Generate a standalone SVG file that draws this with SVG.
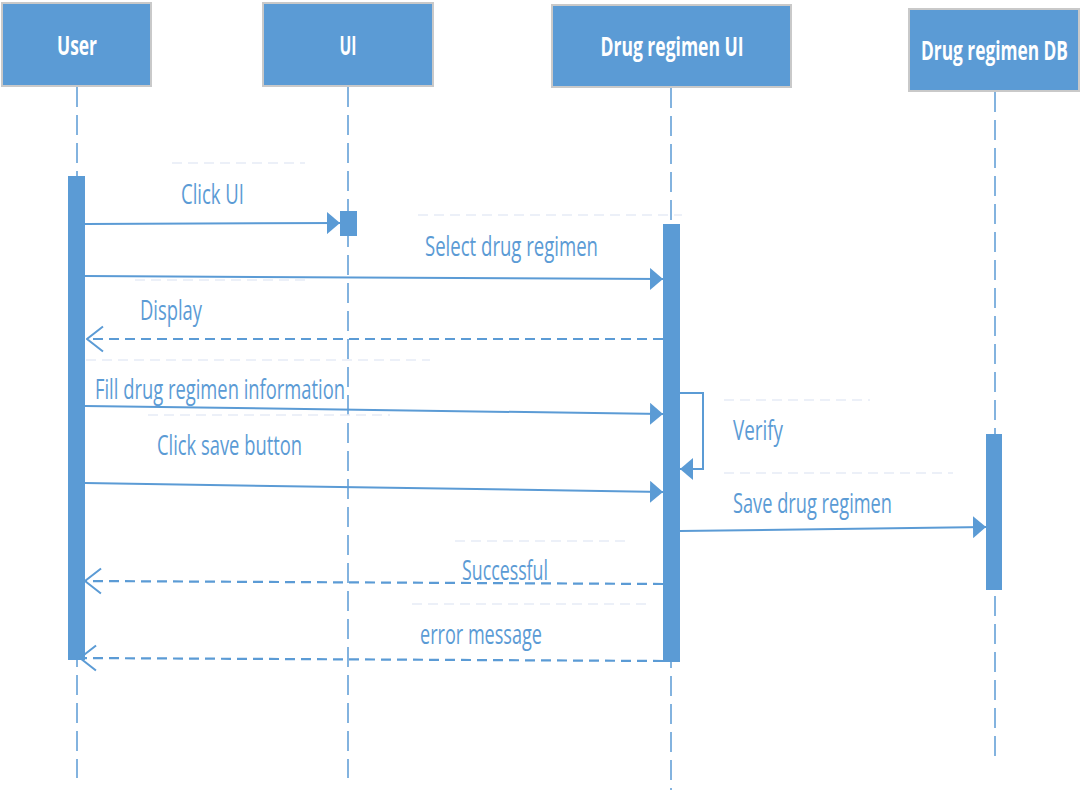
<svg xmlns="http://www.w3.org/2000/svg" width="1081" height="791" viewBox="0 0 1081 791">
<style>
.box{fill:#5B9BD5;stroke:#C9C9C9;stroke-width:2}
.hdr{font-family:"Open Sans","Noto Sans",sans-serif;font-weight:bold;font-size:27px;fill:#FFFFFF;text-anchor:middle}
.life{stroke:#5B9BD5;stroke-width:1.5;stroke-dasharray:20 8;fill:none}
.act{fill:#5B9BD5}
.msg{stroke:#5B9BD5;stroke-width:2;fill:none}
.ret{stroke:#5B9BD5;stroke-width:2.2;fill:none;stroke-dasharray:10 6}
.faint{stroke:#E6ECF6;stroke-width:1.5;stroke-dasharray:10 6;fill:none}
.lbl{font-family:"Open Sans","Noto Sans",sans-serif;font-size:27px;fill:#5B9BD5}
</style>
<defs>
<marker id="fill" viewBox="0 0 13 22" refX="13" refY="11" markerWidth="13" markerHeight="22" markerUnits="userSpaceOnUse" orient="auto"><path d="M0,0 L13,11 L0,22 z" fill="#5B9BD5"/></marker>
<marker id="open" viewBox="0 0 18 28" refX="17" refY="14" markerWidth="18" markerHeight="28" markerUnits="userSpaceOnUse" orient="auto"><path d="M1,1.5 L17,14 L1,26.5" fill="none" stroke="#5B9BD5" stroke-width="2"/></marker>
</defs>
<rect width="1081" height="791" fill="#FFFFFF"/>
<g id="lifelines">
<line class="life" x1="77" y1="87" x2="77" y2="778"/>
<line class="life" x1="348" y1="87" x2="348" y2="778"/>
<line class="life" x1="671" y1="88" x2="671" y2="790"/>
<line class="life" x1="995" y1="92" x2="995" y2="762"/>
</g>
<g id="faint-lines">
<line class="faint" x1="172" y1="163" x2="305" y2="163"/>
<line class="faint" x1="418" y1="215" x2="682" y2="215"/>
<line class="faint" x1="135" y1="280" x2="305" y2="280"/>
<line class="faint" x1="86" y1="360" x2="430" y2="360"/>
<line class="faint" x1="148" y1="415" x2="390" y2="415"/>
<line class="faint" x1="724" y1="400" x2="870" y2="400"/>
<line class="faint" x1="724" y1="473" x2="953" y2="473"/>
<line class="faint" x1="455" y1="541" x2="627" y2="541"/>
<line class="faint" x1="412" y1="604" x2="652" y2="604"/>
</g>
<g id="node-user">
<rect class="box" x="2" y="3" width="149" height="83"/>
<text class="hdr" x="77" y="55" textLength="40" lengthAdjust="spacingAndGlyphs">User</text>
</g>
<g id="node-ui">
<rect class="box" x="263" y="3" width="170" height="83"/>
<text class="hdr" x="348" y="55" textLength="17" lengthAdjust="spacingAndGlyphs">UI</text>
</g>
<g id="node-drug-ui">
<rect class="box" x="552" y="5" width="239" height="82"/>
<text class="hdr" x="672" y="56" textLength="143" lengthAdjust="spacingAndGlyphs">Drug regimen UI</text>
</g>
<g id="node-drug-db">
<rect class="box" x="909" y="9" width="170" height="82"/>
<text class="hdr" x="1068" y="60" text-anchor="end" style="text-anchor:end" textLength="147" lengthAdjust="spacingAndGlyphs">Drug regimen DB</text>
</g>
<g id="activations">
<rect class="act" x="68" y="176" width="17" height="484"/>
<rect class="act" x="340" y="211" width="17" height="25"/>
<rect class="act" x="663" y="224" width="17" height="438"/>
<rect class="act" x="986" y="434" width="16" height="156"/>
</g>
<g id="connectors">
<line class="msg" x1="85" y1="224" x2="340" y2="223" marker-end="url(#fill)"/>
<line class="msg" x1="85" y1="276" x2="663" y2="279" marker-end="url(#fill)"/>
<line class="ret" x1="663" y1="339" x2="87" y2="339" marker-end="url(#open)"/>
<line class="msg" x1="85" y1="406" x2="663" y2="414" marker-end="url(#fill)"/>
<polyline class="msg" points="680,393 703,393 703,469 680,469" marker-end="url(#fill)"/>
<line class="msg" x1="85" y1="483" x2="663" y2="492" marker-end="url(#fill)"/>
<line class="msg" x1="680" y1="531" x2="986" y2="527" marker-end="url(#fill)"/>
<line class="ret" x1="663" y1="584" x2="85" y2="581" marker-end="url(#open)"/>
<line class="ret" x1="663" y1="661" x2="80" y2="658" marker-end="url(#open)"/>
</g>
<g id="labels">
<text class="lbl" x="181" y="204" textLength="63" lengthAdjust="spacingAndGlyphs">Click UI</text>
<text class="lbl" x="425" y="256" textLength="173" lengthAdjust="spacingAndGlyphs">Select drug regimen</text>
<text class="lbl" x="140" y="320" textLength="62" lengthAdjust="spacingAndGlyphs">Display</text>
<text class="lbl" x="95" y="399" textLength="250" lengthAdjust="spacingAndGlyphs">Fill drug regimen information</text>
<text class="lbl" x="733" y="440" textLength="50" lengthAdjust="spacingAndGlyphs">Verify</text>
<text class="lbl" x="157" y="455" textLength="145" lengthAdjust="spacingAndGlyphs">Click save button</text>
<text class="lbl" x="733" y="513" textLength="159" lengthAdjust="spacingAndGlyphs">Save drug regimen</text>
<text class="lbl" x="462" y="580" textLength="86" lengthAdjust="spacingAndGlyphs">Successful</text>
<text class="lbl" x="420" y="644" textLength="122" lengthAdjust="spacingAndGlyphs">error message</text>
</g>
</svg>
